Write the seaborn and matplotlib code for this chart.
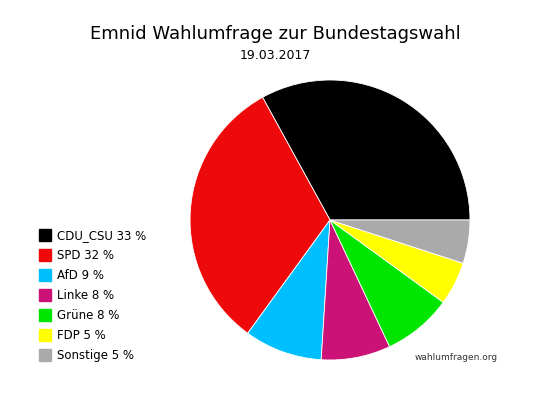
import matplotlib
matplotlib.use("Agg")
import matplotlib.pyplot as plt
import seaborn as sns
from matplotlib.lines import Line2D

sns.set_theme(style="white")
plt.rcParams['font.family'] = ['DejaVu Sans']
plt.rcParams['text.color'] = 'black'

parties = ["CDU_CSU", "SPD", "AfD", "Linke", "Grüne", "FDP", "Sonstige"]
values = [33, 32, 9, 8, 8, 5, 5]
colors = ["#000000", "#ee0a0a", "#00bfff", "#cc1177", "#00e600", "#ffff00", "#aaaaaa"]

fig = plt.figure(figsize=(5.5, 4), dpi=100)
fig.patch.set_facecolor("white")
ax = fig.add_axes([0.3455, 0.1, 0.509, 0.7])
ax.pie(values, colors=colors, startangle=0, counterclock=True,
       wedgeprops=dict(linewidth=0.6, edgecolor="white"))
ax.set_aspect("auto")
ax.set_xlim(-1, 1)
ax.set_ylim(-1, 1)

fig.text(0.5, 0.915, "Emnid Wahlumfrage zur Bundestagswahl", ha="center", va="center", fontsize=13)
fig.text(0.5, 0.862, "19.03.2017", ha="center", va="center", fontsize=9)
fig.text(0.83, 0.107, "wahlumfragen.org", ha="center", va="center", fontsize=6.5, color="#333333")

handles = [Line2D([], [], marker="s", linestyle="", markersize=8, color=c) for c in colors]
labels = [f"{p} {v} %" for p, v in zip(parties, values)]
fig.legend(handles, labels, loc="upper left", bbox_to_anchor=(0.06, 0.443),
           frameon=False, fontsize=8.5, handletextpad=0.5, labelspacing=0.6,
           handlelength=1.0, borderpad=0)

fig.savefig("out.png", dpi=100)
